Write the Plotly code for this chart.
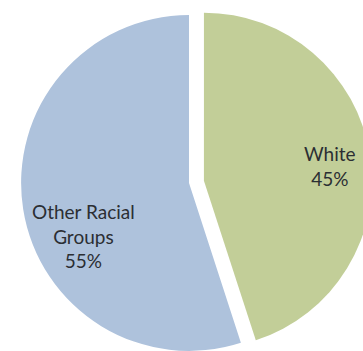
import plotly.graph_objects as go

# Share of population by racial group (clockwise from 12 o'clock)
groups = ["White", "Other Racial<br>Groups"]
shares = [45, 55]
slice_colors = ["#C2CE98", "#AEC2DC"]
pulls = [0.09, 0]

# label anchors (paper coordinates) for each slice
label_x = [0.885, 0.213]
label_y = [0.547, 0.355]

total = sum(shares)

fig = go.Figure(
    go.Pie(
        labels=groups,
        values=shares,
        sort=False,
        direction="clockwise",
        rotation=0,
        pull=pulls,
        marker=dict(colors=slice_colors, line=dict(width=0)),
        textinfo="none",
        hoverinfo="label+percent",
        showlegend=False,
    )
)

for name, val, lx, ly in zip(groups, shares, label_x, label_y):
    fig.add_annotation(
        x=lx,
        y=ly,
        xref="paper",
        yref="paper",
        text=f"{name}<br>{round(100 * val / total)}%",
        showarrow=False,
        align="center",
        xanchor="center",
        yanchor="middle",
        font=dict(family="Lato, Carlito, sans-serif", size=19, color="#2B2E33"),
    )

fig.update_layout(
    width=380,
    height=375,
    margin=dict(l=6, r=8, t=0, b=9),
    paper_bgcolor="white",
    plot_bgcolor="white",
    showlegend=False,
)

# the pie runs past the right and bottom edges of the view
fig.write_html(
    "out.html",
    post_script="document.documentElement.style.overflow='hidden';document.body.style.overflow='hidden';",
)
